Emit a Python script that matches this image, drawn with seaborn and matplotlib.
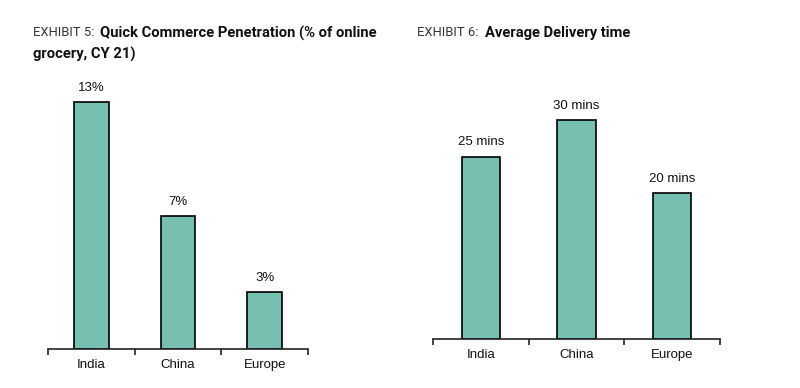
import matplotlib
matplotlib.use("Agg")
import matplotlib.pyplot as plt
import seaborn as sns
import pandas as pd

categories = ["India", "China", "Europe"]
penetration = [13, 7, 3]
delivery_mins = [25, 30, 20]

sns.set_theme(style="white")
plt.rcParams['font.family'] = ['Liberation Sans', 'DejaVu Sans']

BAR = "#76bfb1"
fig = plt.figure(figsize=(8, 3.88), dpi=100)

def make_ax(rect, vals, ymax, labels):
    ax = fig.add_axes(rect)
    df = pd.DataFrame({"cat": categories, "val": vals})
    sns.barplot(data=df, x="cat", y="val", ax=ax, color=BAR, width=0.4,
                edgecolor="black", linewidth=1.2, saturation=1)
    ax.set_xlim(-0.5, 2.5)
    ax.set_ylim(0, ymax)
    for s in ["top", "right", "left"]:
        ax.spines[s].set_visible(False)
    ax.spines["bottom"].set_color("#222222")
    ax.spines["bottom"].set_linewidth(1.2)
    ax.set_yticks([])
    ax.set_xlabel("")
    ax.set_ylabel("")
    ax.set_xticks([-0.5, 0.5, 1.5, 2.5], minor=True)
    ax.tick_params(axis="x", which="minor", length=4, width=1.2, color="#222222", direction="out", bottom=True)
    ax.tick_params(axis="x", which="major", length=0, labelsize=9.5, pad=7, labelcolor="#111111")
    ax.bar_label(ax.containers[0], labels=labels, padding=6, fontsize=9.5, color="#111111")
    return ax

# Left chart: 19 px per %
h1 = 15 * 19 / 388
make_ax([48 / 800, 1 - 349 / 388, 260 / 800, h1], penetration, 15,
        [f"{v}%" for v in penetration])

# Right chart: 7.3 px per min
h2 = 35 * 7.3 / 388
make_ax([433 / 800, 1 - 339 / 388, 287 / 800, h2], delivery_mins, 35,
        [f"{v} mins" for v in delivery_mins])

light_kw = dict(fontsize=9.4, color="#333333", va="center", ha="left",
                family=["Roboto", "DejaVu Sans"], weight="normal")
bold_kw = dict(fontsize=10.6, color="#111111", va="center", ha="left",
               family=["Roboto", "DejaVu Sans"], weight="bold")
fig.text(33 / 800, 1 - 33 / 388, "EXHIBIT 5:", **light_kw)
fig.text(100 / 800, 1 - 33 / 388, "Quick Commerce Penetration (% of online", **bold_kw)
fig.text(33 / 800, 1 - 54 / 388, "grocery, CY 21)", **bold_kw)
fig.text(417 / 800, 1 - 33 / 388, "EXHIBIT 6:", **light_kw)
fig.text(485 / 800, 1 - 33 / 388, "Average Delivery time", **bold_kw)

fig.savefig("out.png", dpi=100, facecolor="white")
